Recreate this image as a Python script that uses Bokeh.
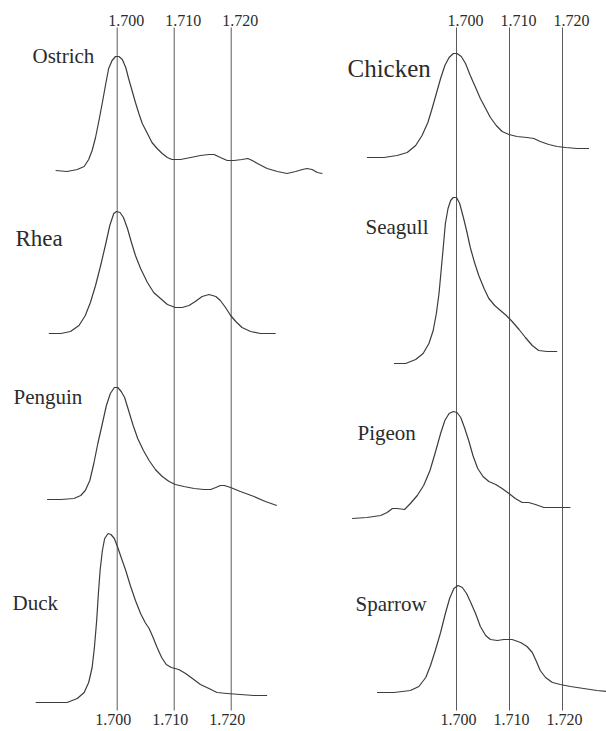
from bokeh.plotting import figure
from bokeh.layouts import row
from bokeh.models import Range1d
from bokeh.embed import file_html
from bokeh.resources import INLINE
from bokeh.core.properties import value

# Buoyant density (g/cm3) and relative absorbance for each species
ostrich_x = [1.6892, 1.6912, 1.6930, 1.6942, 1.6950, 1.6956, 1.6962, 1.6968, 1.6974, 1.6980,
             1.6985, 1.6991, 1.6997, 1.7003, 1.7009, 1.7015, 1.7020, 1.7026, 1.7032, 1.7038,
             1.7044, 1.7053, 1.7061, 1.7070, 1.7079, 1.7088, 1.7096, 1.7111, 1.7129, 1.7146,
             1.7161, 1.7170, 1.7181, 1.7193, 1.7205, 1.7219, 1.7229, 1.7237, 1.7246, 1.7263,
             1.7281, 1.7298, 1.7313, 1.7325, 1.7333, 1.7342, 1.7351, 1.7360]
ostrich_y = [5, 4, 6, 9, 16, 25, 38, 55, 73, 92,
             107, 115, 119, 119, 116, 108, 97, 85, 73, 62,
             52, 42, 33, 27, 22, 18, 16, 16, 18, 20,
             21, 21, 18, 15, 15, 16, 17, 15, 12, 7,
             4, 2, 4, 6, 7, 6, 3, 2]

rhea_x = [1.6880, 1.6901, 1.6918, 1.6933, 1.6944, 1.6953, 1.6962, 1.6971, 1.6980, 1.6987,
          1.6994, 1.6999, 1.7005, 1.7011, 1.7018, 1.7025, 1.7032, 1.7041, 1.7053, 1.7064,
          1.7076, 1.7088, 1.7102, 1.7114, 1.7126, 1.7137, 1.7149, 1.7161, 1.7173, 1.7181,
          1.7190, 1.7199, 1.7208, 1.7219, 1.7234, 1.7251, 1.7278]
rhea_y = [2, 2, 4, 10, 20, 33, 50, 70, 92, 110,
          122, 124, 123, 118, 107, 93, 80, 67, 53, 43,
          37, 31, 28, 28, 30, 34, 39, 41, 39, 35,
          28, 20, 14, 8, 4, 2, 2]

penguin_x = [1.6877, 1.6901, 1.6924, 1.6936, 1.6944, 1.6952, 1.6959, 1.6966, 1.6974, 1.6981,
             1.6988, 1.6995, 1.7001, 1.7007, 1.7013, 1.7020, 1.7028, 1.7036, 1.7046, 1.7056,
             1.7067, 1.7079, 1.7091, 1.7102, 1.7117, 1.7135, 1.7152, 1.7164, 1.7173, 1.7181,
             1.7188, 1.7199, 1.7216, 1.7240, 1.7260, 1.7280]
penguin_y = [11, 11, 12, 15, 20, 30, 47, 67, 87, 105,
             117, 123, 123, 119, 113, 100, 85, 72, 60, 50,
             41, 34, 29, 26, 24, 22, 21, 21, 23, 25,
             25, 23, 19, 14, 9, 5]

duck_x = [1.6857, 1.6883, 1.6912, 1.6930, 1.6942, 1.6950, 1.6956, 1.6960, 1.6964, 1.6967,
          1.6970, 1.6974, 1.6978, 1.6984, 1.6989, 1.6995, 1.7001, 1.7007, 1.7015, 1.7023,
          1.7032, 1.7041, 1.7049, 1.7056, 1.7063, 1.7070, 1.7078, 1.7086, 1.7095, 1.7108,
          1.7120, 1.7132, 1.7146, 1.7161, 1.7175, 1.7193, 1.7216, 1.7240, 1.7263]
duck_y = [3, 3, 3, 7, 13, 23, 38, 58, 85, 112,
          135, 155, 167, 172, 171, 167, 158, 148, 135, 120,
          105, 92, 83, 77, 68, 58, 48, 41, 38, 36,
          32, 27, 21, 17, 13, 12, 11, 10, 10]

chicken_x = [1.6831, 1.6863, 1.6888, 1.6907, 1.6923, 1.6935, 1.6946, 1.6954, 1.6962, 1.6970,
             1.6978, 1.6986, 1.6994, 1.7001, 1.7009, 1.7017, 1.7026, 1.7036, 1.7045, 1.7055,
             1.7064, 1.7075, 1.7086, 1.7099, 1.7114, 1.7133, 1.7146, 1.7158, 1.7174, 1.7190,
             1.7206, 1.7228, 1.7250]
chicken_y = [3, 3, 5, 8, 15, 25, 38, 52, 67, 82,
             95, 103, 107, 107, 104, 97, 85, 73, 62, 52,
             43, 35, 29, 26, 24, 23, 22, 19, 16, 14,
             13, 12, 12]

seagull_x = [1.6882, 1.6904, 1.6923, 1.6937, 1.6948, 1.6956, 1.6962, 1.6967, 1.6971, 1.6975,
             1.6979, 1.6984, 1.6989, 1.6994, 1.7000, 1.7006, 1.7013, 1.7019, 1.7026, 1.7034,
             1.7042, 1.7052, 1.7061, 1.7072, 1.7083, 1.7094, 1.7105, 1.7118, 1.7130, 1.7143,
             1.7155, 1.7171, 1.7190]
seagull_y = [2, 2, 6, 12, 22, 35, 52, 72, 95, 118,
             142, 157, 165, 168, 168, 162, 148, 135, 118, 103,
             90, 77, 67, 60, 55, 50, 44, 36, 28, 20,
             15, 14, 14]

pigeon_x = [1.6803, 1.6831, 1.6857, 1.6869, 1.6879, 1.6888, 1.6902, 1.6913, 1.6926, 1.6938,
            1.6950, 1.6960, 1.6970, 1.6978, 1.6986, 1.6994, 1.7001, 1.7008, 1.7015, 1.7023,
            1.7031, 1.7040, 1.7050, 1.7061, 1.7074, 1.7086, 1.7099, 1.7111, 1.7124, 1.7136,
            1.7149, 1.7165, 1.7190, 1.7215]
pigeon_y = [2, 3, 5, 8, 12, 12, 11, 17, 25, 35,
            50, 68, 87, 100, 107, 109, 108, 103, 93, 80,
            65, 52, 44, 39, 36, 32, 27, 22, 18, 18,
            16, 13, 13, 13]

sparrow_x = [1.6850, 1.6882, 1.6913, 1.6929, 1.6942, 1.6951, 1.6960, 1.6970, 1.6979, 1.6987,
             1.6995, 1.7003, 1.7011, 1.7019, 1.7026, 1.7036, 1.7045, 1.7055, 1.7064, 1.7077,
             1.7089, 1.7105, 1.7121, 1.7133, 1.7143, 1.7150, 1.7158, 1.7168, 1.7181, 1.7196,
             1.7215, 1.7240, 1.7265, 1.7283]
sparrow_y = [3, 3, 5, 9, 18, 30, 45, 63, 82, 97,
             107, 110, 108, 102, 94, 82, 69, 60, 56, 55,
             56, 56, 53, 49, 43, 35, 25, 18, 13, 11,
             9, 7, 5, 4]

tick_values = [1.700, 1.710, 1.720]
tick_labels = ["1.700", "1.710", "1.720"]

H = 731
SERIF = "Liberation Serif"
INK = "#2b2b2b"
CURVE = "#3c3c3c"
RULE = "#5a5a5a"


def column(width, ref_px, px_per_unit, panels, bottom_shift):
    """One column of stacked profiles; ref_px is where 1.700 sits horizontally."""
    x0 = 1.700 - ref_px / px_per_unit
    x1 = x0 + width / px_per_unit
    p = figure(width=width, height=H, x_range=Range1d(x0, x1), y_range=Range1d(0, H),
               output_backend="svg", toolbar_location=None,
               x_axis_type=None, y_axis_type=None,
               min_border=0, outline_line_color=None,
               background_fill_color="white", border_fill_color="white")
    p.xgrid.visible = False
    p.ygrid.visible = False

    # vertical reference lines at the marked densities
    p.segment(x0=tick_values, y0=[H - 710] * 3, x1=tick_values, y1=[H - 27] * 3,
              line_color=RULE, line_width=1)

    # density labels above and below
    p.text(x=tick_values, y=[H - 20] * 3, text=tick_labels, x_offset=9,
           text_font=value(SERIF), text_font_size="16px", text_color=INK,
           text_align="center", text_baseline="middle")
    p.text(x=tick_values, y=[H - 719] * 3, text=tick_labels, x_offset=bottom_shift,
           text_font=value(SERIF), text_font_size="16px", text_color=INK,
           text_align="center", text_baseline="middle")

    for name, xs, ys, base_px, lx, ly, fs in panels:
        p.line(xs, [H - base_px + v for v in ys], line_color=CURVE, line_width=1.2,
               line_join="round")
        p.text(x=[x0 + lx / px_per_unit], y=[H - ly], text=[name],
               text_font=value(SERIF), text_font_size=fs, text_color=INK,
               text_align="left", text_baseline="middle")
    return p


left = column(330, 116.7, 5700.0, [
    ("Ostrich", ostrich_x, ostrich_y, 175, 32, 55, "21px"),
    ("Rhea", rhea_x, rhea_y, 335, 15, 238, "23px"),
    ("Penguin", penguin_x, penguin_y, 510, 13, 396, "21px"),
    ("Duck", duck_x, duck_y, 705, 12, 602, "21px"),
], bottom_shift=-4)

right = column(276, 126.0, 5300.0, [
    ("Chicken", chicken_x, chicken_y, 160, 17, 68, "25px"),
    ("Seagull", seagull_x, seagull_y, 365, 35, 226, "21px"),
    ("Pigeon", pigeon_x, pigeon_y, 520, 27, 432, "21px"),
    ("Sparrow", sparrow_x, sparrow_y, 695, 25, 603, "21px"),
], bottom_shift=2)

layout = row(left, right, spacing=0)
open("out.html", "w").write(file_html(layout, INLINE))
